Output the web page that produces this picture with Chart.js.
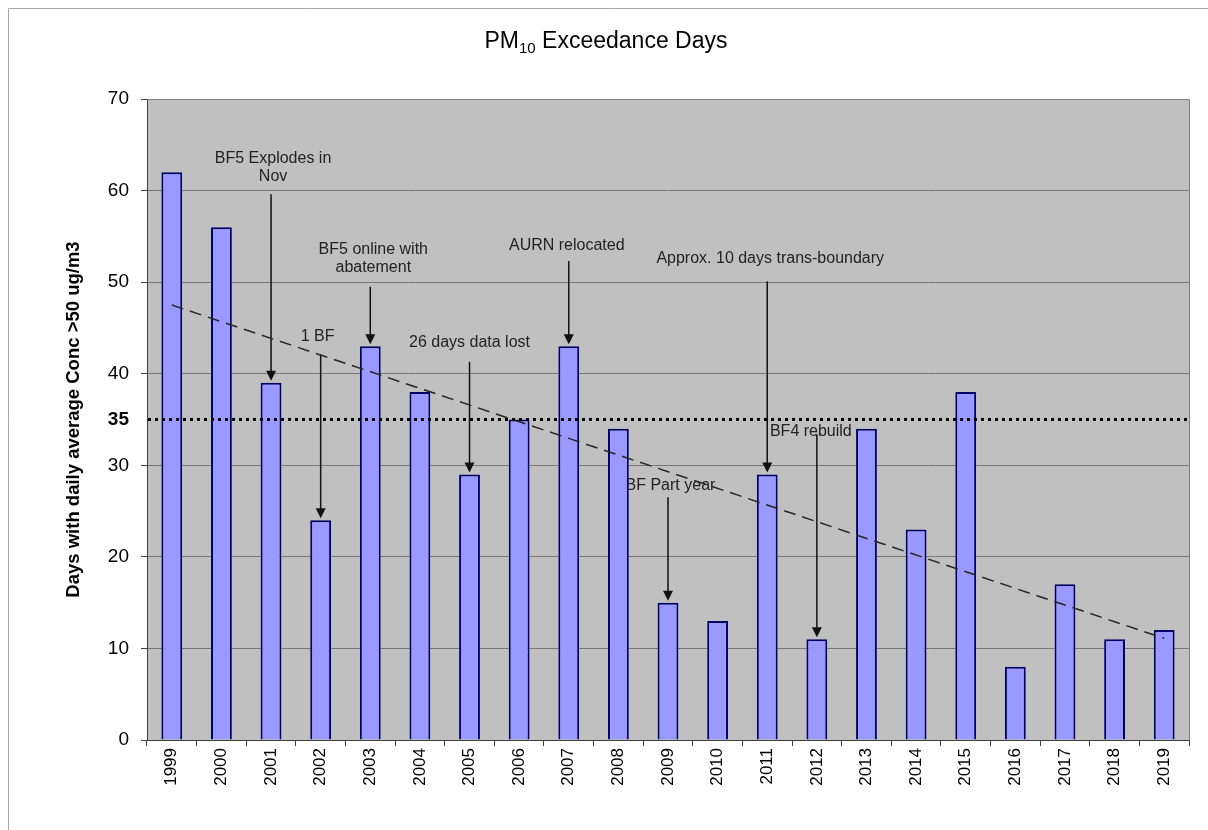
<!DOCTYPE html>
<html>
<head>
<meta charset="utf-8">
<title>PM10 Exceedance Days</title>
<script src="https://cdn.jsdelivr.net/npm/chart.js@4/dist/chart.umd.min.js"></script>
<style>
  html, body { margin: 0; padding: 0; background: #fff; }
  #wrap { width: 1208px; height: 830px; }
</style>
</head>
<body>
<div id="wrap"><canvas id="chart" width="1208" height="830"></canvas></div>
<script>
const years = ["1999", "2000", "2001", "2002", "2003", "2004", "2005", "2006", "2007", "2008", "2009",
  "2010", "2011", "2012", "2013", "2014", "2015", "2016", "2017", "2018", "2019"]
const exceedanceDays = [62, 56, 39, 24, 43, 38, 29, 35, 43, 34, 15, 13, 29, 11, 34, 23, 38, 8, 17, 11, 12]
// trend line: only the two ends, the line spans the gap
const trendDays = [47.5, null, null, null, null, null, null, null, null, null, null,
  null, null, null, null, null, null, null, null, null, 11.1]
const limitDays = 35
const yTicks = [0, 10, 20, 30, 35, 40, 50, 60, 70]

// notes: text anchor and arrow start in axis units, arrow ends on the bar top
const notes = [
  { year: "2001", lines: ["BF5 Explodes in", "Nov"], textAt: 63.5, arrowFrom: 59.6, dx: 2 },
  { year: "2002", lines: ["1 BF"], textAt: 44.1, arrowFrom: 42.1, dx: -3 },
  { year: "2003", lines: ["BF5 online with", "abatement"], textAt: 53.6, arrowFrom: 49.5, dx: 3 },
  { year: "2005", lines: ["26 days data lost"], textAt: 43.4, arrowFrom: 41.3, dx: 0 },
  { year: "2007", lines: ["AURN relocated"], textAt: 54.0, arrowFrom: 52.3, dx: -2 },
  { year: "2011", lines: ["Approx. 10 days trans-boundary"], textAt: 52.6, arrowFrom: 50.1, dx: 3 },
  { year: "2012", lines: ["BF4 rebuild"], textAt: 33.7, arrowFrom: 33.4, dx: -6 },
  { year: "2009", lines: ["1BF Part year"], textAt: 27.8, arrowFrom: 26.5, dx: -2 }
]

const fontFamily = "'Liberation Sans', Arial, sans-serif"

const frameAndNotes = {
  id: "frameAndNotes",
  beforeDraw(chart) {
    const { ctx, chartArea: a } = chart
    ctx.save()
    // outer frame (top and left only visible)
    ctx.strokeStyle = "#a6a6a6"
    ctx.lineWidth = 1
    ctx.beginPath()
    ctx.moveTo(8.5, chart.height)
    ctx.lineTo(8.5, 8.5)
    ctx.lineTo(chart.width, 8.5)
    ctx.stroke()
    // plot background
    ctx.fillStyle = "#c0c0c0"
    ctx.fillRect(a.left, a.top, a.right - a.left, a.bottom - a.top)
    ctx.restore()
  },
  beforeDatasetsDraw(chart) {
    const { ctx, chartArea: a } = chart
    const x = chart.scales.x, y = chart.scales.y
    ctx.save()
    ctx.strokeStyle = "#808080"
    ctx.lineWidth = 1
    ctx.beginPath()
    ctx.moveTo(a.left, a.top + 0.5)
    ctx.lineTo(a.right + 0.5, a.top + 0.5)
    ctx.lineTo(a.right + 0.5, a.bottom)
    ctx.stroke()

    ctx.font = "16px " + fontFamily
    ctx.textAlign = "center"
    ctx.textBaseline = "middle"
    notes.forEach(note => {
      const i = years.indexOf(note.year)
      const cx = x.getPixelForValue(i)
      const ty = y.getPixelForValue(note.textAt)
      ctx.fillStyle = "#222"
      note.lines.forEach((line, k) => ctx.fillText(line, cx + note.dx, ty + k * 18))

      const from = y.getPixelForValue(note.arrowFrom)
      const tip = y.getPixelForValue(exceedanceDays[i]) - 2
      ctx.strokeStyle = "#111"
      ctx.lineWidth = 1.5
      ctx.beginPath()
      ctx.moveTo(cx, from)
      ctx.lineTo(cx, tip - 6)
      ctx.stroke()
      ctx.fillStyle = "#111"
      ctx.beginPath()
      ctx.moveTo(cx - 5, tip - 10)
      ctx.lineTo(cx + 5, tip - 10)
      ctx.lineTo(cx, tip)
      ctx.closePath()
      ctx.fill()
    })
    ctx.restore()
  },
  afterDatasetsDraw(chart) {
    const { ctx, chartArea: a } = chart
    const ly = chart.scales.y.getPixelForValue(limitDays)
    ctx.save()
    ctx.strokeStyle = "#000"
    ctx.lineWidth = 3
    ctx.setLineDash([3, 4])
    ctx.beginPath()
    ctx.moveTo(a.left + 1, ly)
    ctx.lineTo(a.right, ly)
    ctx.stroke()
    ctx.restore()
  },
  afterDraw(chart) {
    // title with subscript
    const { ctx } = chart
    ctx.save()
    ctx.fillStyle = "#000"
    ctx.textBaseline = "alphabetic"
    const big = "23px " + fontFamily, small = "15px " + fontFamily
    ctx.font = big
    const wPM = ctx.measureText("PM").width
    const wRest = ctx.measureText(" Exceedance Days").width
    ctx.font = small
    const wSub = ctx.measureText("10").width
    let tx = 606 - (wPM + wSub + wRest) / 2
    const base = 48
    ctx.font = big
    ctx.fillText("PM", tx, base)
    tx += wPM
    ctx.font = small
    ctx.fillText("10", tx, base + 5)
    tx += wSub
    ctx.font = big
    ctx.fillText(" Exceedance Days", tx, base)
    ctx.restore()
  }
}

new Chart(document.getElementById("chart"), {
  type: "bar",
  data: {
    labels: years,
    datasets: [
      {
        type: "line",
        data: trendDays,
        spanGaps: true,
        borderColor: "#262626",
        borderWidth: 1.5,
        borderDash: [12, 7],
        pointRadius: 0,
        order: 1
      },
      {
        data: exceedanceDays,
        backgroundColor: "#9999ff",
        borderColor: "#000066",
        borderWidth: 2,
        barPercentage: 0.42,
        categoryPercentage: 1,
        order: 2
      }
    ]
  },
  options: {
    responsive: false,
    animation: false,
    layout: { padding: { left: 0, top: 99, right: 19, bottom: 0 } },
    plugins: { legend: { display: false }, tooltip: { enabled: false }, title: { display: false } },
    scales: {
      x: {
        grid: { offset: true, drawOnChartArea: false, color: "#404040", tickLength: 6 },
        border: { color: "#404040" },
        ticks: {
          color: "#000",
          font: { family: fontFamily, size: 17 },
          minRotation: 90, maxRotation: 90, padding: 2, autoSkip: false
        },
        afterFit(scale) { scale.height = 90 }
      },
      y: {
        min: 0, max: 70,
        afterBuildTicks(scale) { scale.ticks = yTicks.map(v => ({ value: v })) },
        grid: {
          color: ctx => (ctx.tick && ctx.tick.value === limitDays) ? "rgba(0,0,0,0)" : "#787878",
          tickColor: ctx => (ctx.tick && ctx.tick.value === limitDays) ? "rgba(0,0,0,0)" : "#404040",
          tickLength: 6
        },
        border: { color: "#404040" },
        ticks: {
          color: "#000",
          padding: 12,
          font: ctx => ({ family: fontFamily, size: 19, weight: (ctx.tick && ctx.tick.value === limitDays) ? "bold" : "normal" })
        },
        title: {
          display: true,
          text: "Days with daily average Conc >50 ug/m3",
          color: "#000",
          font: { family: fontFamily, size: 18.5, weight: "bold" },
          padding: { top: 63, bottom: 0 }
        },
        afterFit(scale) { scale.width = 147 }
      }
    }
  },
  plugins: [frameAndNotes]
})
</script>
</body>
</html>
